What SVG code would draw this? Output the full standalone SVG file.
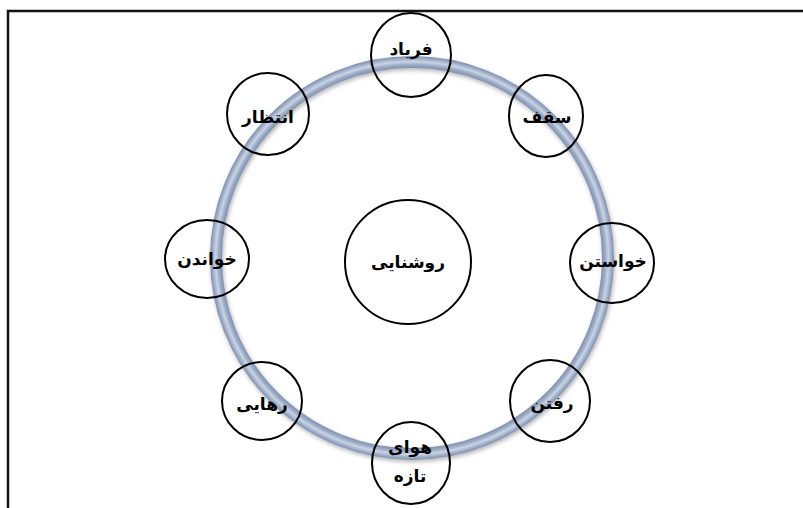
<svg xmlns="http://www.w3.org/2000/svg" width="803" height="508" viewBox="0 0 803 508">
<defs>
<radialGradient id="tube" gradientUnits="userSpaceOnUse" cx="412" cy="258" r="204">
<stop offset="0" stop-color="#7b8cab"/>
<stop offset="0.928" stop-color="#7b8cab"/>
<stop offset="0.948" stop-color="#9dadc7"/>
<stop offset="0.962" stop-color="#c9d4e5"/>
<stop offset="0.976" stop-color="#a2b1ca"/>
<stop offset="0.992" stop-color="#7a8baa"/>
<stop offset="1" stop-color="#7a8baa"/>
</radialGradient>
<filter id="sh" x="-10%" y="-10%" width="120%" height="120%">
<feGaussianBlur in="SourceAlpha" stdDeviation="2"/>
<feOffset dx="1" dy="2" result="b"/>
<feComponentTransfer><feFuncA type="linear" slope="0.3"/></feComponentTransfer>
<feMerge><feMergeNode/><feMergeNode in="SourceGraphic"/></feMerge>
</filter>
</defs>
<style>
.n{fill:none;stroke:#000;stroke-width:2}
.t{font-family:"DejaVu Sans",sans-serif;font-weight:bold;font-size:17px;fill:#000;text-anchor:middle;dominant-baseline:central}
</style>
<rect width="803" height="508" fill="#fff"/>
<path d="M8,508 V11 H803" fill="none" stroke="#111" stroke-width="2.5"/>
<g id="ring" filter="url(#sh)">
<circle cx="412" cy="258" r="196" fill="none" stroke="url(#tube)" stroke-width="12"/>
</g>
<g id="connectors"/>
<g id="n-center"><ellipse class="n" cx="408" cy="262" rx="63" ry="62"/><text class="t" x="408" y="262" direction="rtl">روشنایی</text></g>
<g id="n-faryad"><ellipse class="n" cx="411" cy="55" rx="40" ry="42"/><text class="t" x="411" y="49" direction="rtl">فریاد</text></g>
<g id="n-saghf"><ellipse class="n" cx="546" cy="116" rx="37" ry="41"/><text class="t" x="547" y="117" direction="rtl">سقف</text></g>
<g id="n-entezar"><ellipse class="n" cx="268" cy="114" rx="41" ry="41"/><text class="t" x="268" y="117" direction="rtl">انتظار</text></g>
<g id="n-khastan"><ellipse class="n" cx="612" cy="263" rx="42" ry="40"/><text class="t" x="613" y="261" direction="rtl">خواستن</text></g>
<g id="n-khandan"><ellipse class="n" cx="207" cy="259" rx="42" ry="39"/><text class="t" x="207" y="259" direction="rtl">خواندن</text></g>
<g id="n-raftan"><ellipse class="n" cx="550" cy="401" rx="40" ry="41"/><text class="t" x="552" y="403" direction="rtl">رفتن</text></g>
<g id="n-rahayi"><ellipse class="n" cx="262" cy="401" rx="40" ry="39"/><text class="t" x="262" y="404" direction="rtl">رهایی</text></g>
<g id="n-hava"><ellipse class="n" cx="411" cy="463" rx="39" ry="41"/><text class="t" x="410" y="447" direction="rtl">هوای</text><text class="t" x="410" y="476" direction="rtl">تازه</text></g>
</svg>
